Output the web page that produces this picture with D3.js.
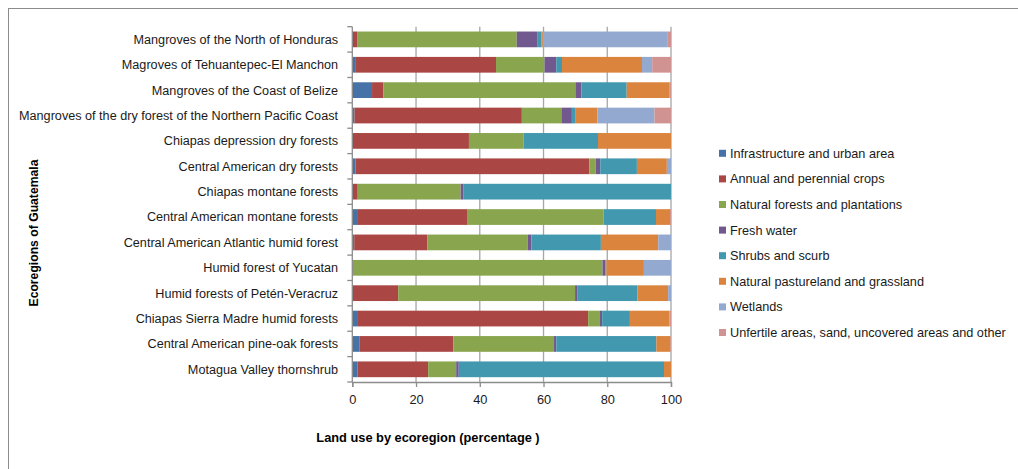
<!DOCTYPE html>
<html><head><meta charset="utf-8">
<script src="https://cdn.jsdelivr.net/npm/d3@7/dist/d3.min.js"></script>
<style>
body{margin:0;background:#fff;}
svg{display:block;font-family:"Liberation Sans",Arial,sans-serif;}
</style></head>
<body><svg id="c" width="1018" height="469"></svg>
<script>
const categories = [
  "Mangroves of the North of Honduras",
  "Magroves of Tehuantepec-El Manchon",
  "Mangroves of the Coast of Belize",
  "Mangroves of the dry forest of the Northern Pacific Coast",
  "Chiapas depression dry forests",
  "Central American dry forests",
  "Chiapas montane forests",
  "Central American montane forests",
  "Central American Atlantic humid forest",
  "Humid forest of Yucatan",
  "Humid forests of Petén-Veracruz",
  "Chiapas Sierra Madre humid forests",
  "Central American pine-oak forests",
  "Motagua Valley thornshrub"
];
const seriesNames = [
  "Infrastructure and urban area",
  "Annual and perennial crops",
  "Natural forests and plantations",
  "Fresh water",
  "Shrubs and scurb",
  "Natural pastureland and grassland",
  "Wetlands",
  "Unfertile areas, sand, uncovered areas and other"
];
const infrastructure = [0, 0.9, 6.2, 0.7, 0, 1.0, 0, 1.5, 0.6, 0, 0, 1.5, 2.2, 1.6];
const crops          = [1.5, 44.2, 3.5, 52.5, 36.6, 73.4, 1.7, 34.7, 22.9, 0, 14.4, 72.5, 29.5, 22.2];
const forests        = [50.1, 15.2, 60.3, 12.4, 17.1, 2.0, 32.3, 42.6, 31.5, 78.5, 55.5, 3.7, 31.6, 8.8];
const freshWater     = [6.4, 3.7, 1.9, 3.3, 0, 1.4, 0.8, 0, 1.2, 0.9, 0.8, 0.7, 0.7, 0.8];
const shrubs         = [1.4, 1.8, 14.2, 1.2, 23.4, 11.5, 65.2, 16.5, 21.8, 0.3, 18.8, 8.7, 31.4, 64.4];
const pasture        = [0.4, 25.1, 13.5, 6.8, 22.9, 9.4, 0, 4.4, 18.0, 11.8, 9.6, 12.4, 4.4, 2.2];
const wetlands       = [39.0, 3.2, 0.1, 17.9, 0, 1.3, 0, 0, 4.0, 8.5, 0.9, 0, 0, 0];
const unfertile      = [1.2, 5.9, 0.3, 5.2, 0, 0, 0, 0.3, 0, 0, 0, 0.5, 0.2, 0];
const xTicks = [0, 20, 40, 60, 80, 100];
const colors = ["#4572A7","#AA4643","#89A54E","#71588F","#4198AF","#DB843D","#93A9CF","#D19392"];

const series = [infrastructure, crops, forests, freshWater, shrubs, pasture, wetlands, unfertile];
const rows = categories.map((c, i) => {
  const r = {cat: c};
  seriesNames.forEach((s, j) => r[s] = series[j][i]);
  return r;
});
const stacked = d3.stack().keys(seriesNames)(rows);

const svg = d3.select("#c");
svg.append("rect").attr("x", 8.5).attr("y", 8.5).attr("width", 1030).attr("height", 480)
  .attr("fill", "none").attr("stroke", "#8c8c8c").attr("stroke-width", 1);

const x0 = 352.3, x1 = 671, yTop = 26.7, yBot = 382;
const x = d3.scaleLinear().domain([0, 100]).range([x0, x1]);
const y = d3.scaleBand().domain(categories).range([yTop, yBot]).paddingInner(0.38).paddingOuter(0.19);

// gridlines
svg.append("g").selectAll("line").data(xTicks.slice(1)).join("line")
  .attr("x1", d => x(d)).attr("x2", d => x(d)).attr("y1", yTop).attr("y2", yBot)
  .attr("stroke", "#a6a6a6").attr("stroke-width", 1.3);

// bars
svg.append("g").selectAll("g").data(stacked).join("g")
  .attr("fill", (d, i) => colors[i])
  .selectAll("rect").data(d => d).join("rect")
  .attr("x", d => x(d[0])).attr("width", d => Math.max(0, x(d[1]) - x(d[0])))
  .attr("y", d => y(d.data.cat)).attr("height", y.bandwidth());

// y axis
const yAxisG = svg.append("g");
yAxisG.append("line").attr("x1", x0).attr("x2", x0).attr("y1", yTop).attr("y2", yBot)
  .attr("stroke", "#8c8c8c").attr("stroke-width", 1.3);
const bounds = d3.range(categories.length + 1).map(i => yTop + i * y.step());
yAxisG.selectAll("line.t").data(bounds).join("line").attr("class", "t")
  .attr("x1", x0 - 5).attr("x2", x0).attr("y1", d => d).attr("y2", d => d)
  .attr("stroke", "#8c8c8c").attr("stroke-width", 1.3);
yAxisG.selectAll("text").data(categories).join("text")
  .attr("x", 338).attr("y", d => y(d) + y.bandwidth() / 2)
  .attr("dy", "0.35em").attr("text-anchor", "end")
  .attr("font-size", 12.65).attr("fill", "#1a1a1a").text(d => d);

// x axis
const xAxis = d3.axisBottom(x).tickValues(xTicks).tickSize(5).tickPadding(8).tickFormat(d3.format("d"));
const xg = svg.append("g").attr("transform", `translate(0,${yBot})`).call(xAxis);
xg.select(".domain").attr("stroke", "#8c8c8c").attr("stroke-width", 1.3);
xg.selectAll(".tick line").attr("stroke", "#8c8c8c").attr("stroke-width", 1.3);
xg.selectAll("text").attr("font-size", 12.8).attr("fill", "#1a1a1a").attr("font-family", "Liberation Sans, Arial, sans-serif");

// axis titles
svg.append("text").attr("x", 428).attr("y", 442).attr("text-anchor", "middle")
  .attr("font-size", 12.8).attr("font-weight", "bold").attr("fill", "#000")
  .text("Land use by ecoregion (percentage )");
svg.append("text").attr("transform", "translate(38,233) rotate(-90)").attr("text-anchor", "middle")
  .attr("font-size", 12.2).attr("font-weight", "bold").attr("fill", "#000")
  .text("Ecoregions of Guatemala");

// legend
const lg = svg.append("g").selectAll("g").data(seriesNames).join("g")
  .attr("transform", (d, i) => `translate(719,${153.3 + i * 25.6})`);
lg.append("rect").attr("x", 0).attr("y", -3.5).attr("width", 7).attr("height", 7)
  .attr("fill", (d, i) => colors[i]);
lg.append("text").attr("x", 11).attr("dy", "0.35em").attr("font-size", 12.7)
  .attr("fill", "#1a1a1a").text(d => d);
</script></body></html>
